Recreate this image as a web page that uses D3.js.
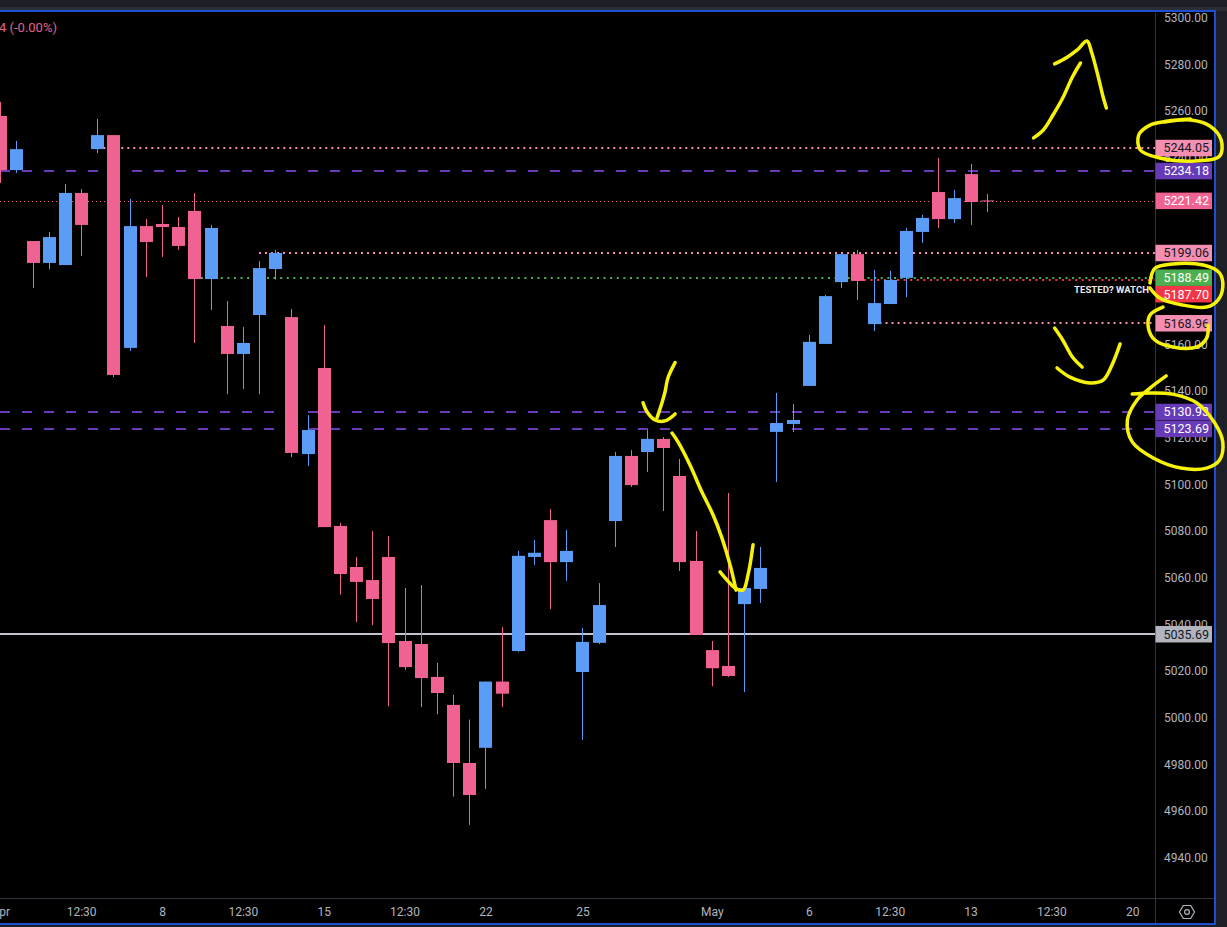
<!DOCTYPE html>
<html>
<head>
<meta charset="utf-8">
<script src="https://cdn.jsdelivr.net/npm/d3@7/dist/d3.min.js"></script>
<style>
  html, body { margin: 0; padding: 0; background: #1c1f26; }
  svg { display: block; }
  text { font-family: Roboto, "Liberation Sans", Arial, sans-serif; }
</style>
</head>
<body>
<svg id="chart" width="1227" height="927"></svg>
<script>
// ---------------- DATA ----------------
const opens  = [5257.8,5234.6,5204.2,5194.8,5193.9,5224.8,5243.6,5249.6,5158.4,5210.6,
                5211.5,5210.2,5217.1,5187.9,5167.8,5155.8,5172.5,5192.2,5171.6,5112.9,
                5149.8,5082.1,5064.5,5058.9,5068.8,5032.8,5031.5,5017.4,5005.4,4980.5,
                4987.0,5015.4,5028.5,5068.8,5084.6,5066.6,5019.5,5032.0,5084.2,5112.1,
                5113.8,5119.4,5103.5,5067.1,5028.9,5022.1,5048.6,5055.1,5122.4,5125.8,
                5142.1,5160.1,5186.6,5198.6,5168.6,5177.2,5188.4,5208.1,5225.2,5213.6,
                5232.9,5221.6];
const highs  = [5263.8,5247.1,5204.2,5208.1,5228.6,5226.5,5256.5,5249.6,5222.2,5213.6,
                5219.6,5214.5,5224.8,5211.1,5178.5,5167.4,5195.6,5200.4,5175.1,5129.6,
                5168.2,5083.4,5068.8,5079.9,5077.8,5055.5,5056.8,5023.4,5009.7,4999.1,
                5015.4,5038.7,5071.4,5076.1,5089.4,5080.4,5038.4,5057.6,5113.8,5114.6,
                5123.2,5120.2,5110.8,5079.9,5032.8,5096.2,5056.8,5073.1,5139.1,5134.4,
                5164.0,5181.1,5198.6,5200.4,5191.8,5191.4,5209.8,5215.4,5239.8,5226.1,
                5237.2,5224.4];
const lows   = [5229.1,5233.4,5184.1,5192.2,5193.9,5197.8,5241.9,5145.9,5157.1,5188.8,
                5197.4,5200.4,5160.5,5174.6,5138.6,5140.8,5138.6,5187.7,5111.6,5107.8,
                5081.6,5052.7,5040.9,5039.6,5004.8,5020.4,5004.4,5001.4,4966.1,4954.0,
                4969.4,5004.4,5028.1,5065.4,5046.4,5058.6,4990.4,5031.5,5073.1,5098.8,
                5105.2,5088.5,5062.8,5035.4,5013.4,5017.4,5010.9,5049.1,5100.9,5122.4,
                5142.1,5160.1,5184.1,5178.9,5165.6,5177.2,5180.2,5203.4,5209.8,5211.9,
                5211.1,5216.6];
const closes = [5234.6,5243.6,5194.8,5205.9,5224.8,5211.1,5249.6,5146.8,5210.6,5203.8,
                5210.2,5202.1,5187.9,5209.8,5155.8,5160.5,5192.6,5199.1,5113.4,5123.2,
                5081.6,5061.5,5058.1,5050.8,5031.9,5021.6,5016.9,5010.5,4980.5,4966.8,
                5015.4,5010.2,5069.3,5070.6,5066.6,5071.4,5032.4,5048.2,5112.1,5099.6,
                5119.4,5115.5,5066.6,5035.4,5021.1,5017.8,5055.5,5064.1,5126.2,5127.5,
                5161.0,5180.6,5198.6,5187.1,5177.6,5187.5,5208.5,5214.1,5213.6,5222.6,
                5220.9,5221.42];

// x-axis labels (bar index -> label)
const xTickIndex  = [0, 5, 10, 15, 20, 25, 30, 36, 44, 50, 55, 60, 65, 70];
const xTickLabels = ["Apr","12:30","8","12:30","15","12:30","22","25","May","6","12:30","13","12:30","20"];

// price axis ticks
const yTickValues = [4940,4960,4980,5000,5020,5040,5060,5080,5100,5120,5140,5160,5180,5200,5220,5240,5260,5280,5300];

// horizontal levels
const levelPrices     = [5244.05, 5234.18, 5221.42, 5199.06, 5188.49, 5187.70, 5168.96, 5130.93, 5123.69, 5035.69];
const levelStartIndex = [6, 0, 0, 16, 12, 53, 54, 0, 0, 0];
const levelNote = "TESTED? WATCH";
const headerText = "4 (-0.00%)";

// hand-drawn annotation strokes, in [bar index, price]
const annoUpShaft   = [[63.9,5248.4],[64.5,5251.8],[65.1,5258.2],[65.7,5265.5],[66.3,5274.5],[66.8,5280.5]];
const annoUpHead    = [[65.2,5280.1],[66.0,5283.1],[66.6,5286.1],[67.2,5289.9],[67.5,5284.8],[67.9,5274.5],[68.2,5265.9],[68.4,5261.2]];
const annoRing1     = [[72.0,5255.2],[73.6,5256.1],[74.8,5253.5],[75.5,5247.5],[75.4,5240.6],[73.9,5238.5],[71.7,5239.8],[70.5,5243.2],[70.4,5249.6],[71.1,5253.9],[72.2,5255.6],[73.6,5256.5]];
const annoRing2     = [[71.1,5186.2],[71.4,5192.5],[72.5,5194.4],[74.4,5193.9],[75.4,5190.5],[75.6,5184.5],[75.3,5178.9],[74.6,5175.9],[73.1,5176.8],[71.7,5179.8],[71.1,5184.1]];
const annoRing3     = [[71.9,5175.9],[71.1,5172.5],[71.0,5166.9],[71.4,5161.8],[72.5,5158.8],[74.0,5158.8],[74.6,5162.6],[74.7,5168.2]];
const annoDownA     = [[65.2,5166.9],[65.7,5161.8],[66.3,5154.5],[66.9,5150.2]];
const annoDownB     = [[65.35,5149.8],[66.15,5145.9],[67.4,5143.4],[68.2,5144.6],[68.75,5151.1],[69.25,5160.1]];
const annoRing4     = [[72.1,5146.4],[71.1,5141.2],[70.3,5136.1],[69.7,5127.5],[70.0,5118.1],[71.3,5111.2],[73.0,5106.9],[74.6,5106.9],[75.4,5110.4],[75.6,5118.1],[75.1,5126.2],[74.0,5134.8],[72.5,5138.6],[71.1,5139.1],[70.0,5138.6]];
const annoMidShaft  = [[41.73,5152.1],[41.29,5145.6],[41.11,5139.6],[40.92,5134.9],[40.61,5128.4]];
const annoMidHead   = [[39.75,5134.9],[39.99,5131.0],[40.49,5127.5],[41.11,5127.1],[41.73,5130.1]];
const annoLongShaft = [[41.54,5121.9],[41.91,5118.1],[42.65,5108.2],[43.39,5096.6],[44.08,5086.8],[44.63,5076.9],[45.13,5065.4],[45.5,5054.6]];
const annoLongHead  = [[44.51,5062.4],[44.94,5058.9],[45.44,5055.5],[45.93,5054.6],[46.24,5061.1],[46.55,5074.0]];

// ---------------- LAYOUT ----------------
const W = 1227, H = 927;
const plot = { left: 0, right: 1155, top: 13, bottom: 898 };
const colUp = "#5b9cf6", colDown = "#f06292";

const x = d3.scaleLinear().domain([0, 61]).range([0.3, 986.7]);
const y = d3.scaleLinear().domain([4940, 5300]).range([857.5, 17.5]);

const svg = d3.select("#chart");

// window chrome
svg.append("rect").attr("x",0).attr("y",0).attr("width",W).attr("height",H).attr("fill","#1c1f26");
svg.append("rect").attr("x",0).attr("y",7).attr("width",W).attr("height",4).attr("fill","#2a2d35");
svg.append("rect").attr("x",0).attr("y",12).attr("width",1216).attr("height",912).attr("fill","#000");
svg.append("rect").attr("x",-2).attr("y",11).attr("width",1217).attr("height",913)
   .attr("fill","none").attr("stroke","#1f4fd1").attr("stroke-width",2);

const defs = svg.append("defs");
defs.append("clipPath").attr("id","plotClip").append("rect")
  .attr("x",plot.left).attr("y",plot.top).attr("width",plot.right-plot.left).attr("height",plot.bottom-plot.top);

// separators
svg.append("line").attr("x1",1155.5).attr("x2",1155.5).attr("y1",13).attr("y2",923)
   .attr("stroke","#2e323c").attr("stroke-width",1);
svg.append("line").attr("x1",0).attr("x2",1214).attr("y1",898.5).attr("y2",898.5)
   .attr("stroke","#2e323c").attr("stroke-width",1);

const plotG = svg.append("g").attr("clip-path","url(#plotClip)");

// level lines
const levelStyle = [
  {c:"#f48fb1", w:2, d:"2,4"},
  {c:"#673ab7", w:2, d:"10,12"},
  {c:"#f06292", w:1, d:"1,3"},
  {c:"#f48fb1", w:2, d:"2,4"},
  {c:"#4caf50", w:2, d:"2,4.6"},
  {c:"#f23645", w:2, d:"2,4.6"},
  {c:"#f48fb1", w:2, d:"2,4"},
  {c:"#673ab7", w:2, d:"10,12"},
  {c:"#673ab7", w:2, d:"10,12"},
  {c:"#c3c5cc", w:2, d:null}
];
levelPrices.forEach((p, i) => {
  const st = levelStyle[i];
  const yy = Math.round(y(p)) + (st.w === 1 ? 0.5 : 0);
  const ln = plotG.append("line")
    .attr("x1", levelStartIndex[i] === 0 ? plot.left : x(levelStartIndex[i]))
    .attr("x2", plot.right).attr("y1", yy).attr("y2", yy)
    .attr("stroke", st.c).attr("stroke-width", st.w);
  if (st.d) ln.attr("stroke-dasharray", st.d);
});

// candles
const bars = d3.range(opens.length).map(i => ({i, o: opens[i], h: highs[i], l: lows[i], c: closes[i]}));
const candleG = plotG.append("g");
candleG.selectAll("line.wick").data(bars).join("line")
  .attr("class","wick")
  .attr("x1", d => Math.round(x(d.i)) + 0.5).attr("x2", d => Math.round(x(d.i)) + 0.5)
  .attr("y1", d => y(d.h)).attr("y2", d => y(d.l))
  .attr("stroke", d => d.c >= d.o ? colUp : colDown).attr("stroke-width", 1);
candleG.selectAll("rect.body").data(bars).join("rect")
  .attr("class","body")
  .attr("x", d => Math.round(x(d.i)) - 6)
  .attr("width", 13)
  .attr("y", d => y(Math.max(d.o, d.c)))
  .attr("height", d => Math.max(1, Math.abs(y(d.o) - y(d.c))))
  .attr("fill", d => d.c >= d.o ? colUp : colDown);

// note text on red level
plotG.append("text")
  .attr("x", plot.right - 6).attr("y", y(levelPrices[5]) + 13)
  .attr("text-anchor","end").attr("font-size", 9.6).attr("font-weight", 700)
  .attr("fill","#e8e8e8").text(levelNote);

// header text
svg.append("text").attr("x", -1).attr("y", 32).attr("font-size", 13)
  .attr("fill", "#e0628c").text(headerText);

// price labels positions (resolve collisions)
const lh = 16.5;
const labels = levelPrices.map((p, i) => ({p, i, yc: y(p)})).sort((a, b) => a.yc - b.yc);
for (let k = 1; k < labels.length; k++) {
  if (labels[k].yc < labels[k-1].yc + lh - 1) labels[k].yc = labels[k-1].yc + lh;
}

// y axis (ticks fully hidden behind a price label are skipped)
const visibleTicks = yTickValues.filter(v => !labels.some(L => Math.abs(L.yc - y(v)) < lh/2 - 1));
const yAxis = d3.axisRight(y).tickValues(visibleTicks).tickFormat(d3.format(".2f"))
  .tickSize(0).tickPadding(9);
const yG = svg.append("g").attr("transform", `translate(${plot.right},0)`).call(yAxis);
yG.select(".domain").remove();
yG.selectAll("text").attr("fill","#b2b5be").attr("font-size",12)
  .attr("font-family","Roboto, 'Liberation Sans', Arial, sans-serif");

// x axis
const xAxis = d3.axisBottom(x).tickValues(xTickIndex).tickFormat((d, i) => xTickLabels[i])
  .tickSize(0).tickPadding(9);
const xG = svg.append("g").attr("transform", `translate(0,${plot.bottom})`).call(xAxis);
xG.select(".domain").remove();
xG.selectAll("text").attr("fill","#b2b5be").attr("font-size",12)
  .attr("font-family","Roboto, 'Liberation Sans', Arial, sans-serif");

// price labels
const labelStyle = [
  {bg:"#f48fb1", fg:"#131722"},
  {bg:"#673ab7", fg:"#ffffff"},
  {bg:"#f06292", fg:"#ffffff"},
  {bg:"#f48fb1", fg:"#131722"},
  {bg:"#4caf50", fg:"#ffffff"},
  {bg:"#f23645", fg:"#ffffff"},
  {bg:"#f48fb1", fg:"#131722"},
  {bg:"#673ab7", fg:"#ffffff"},
  {bg:"#673ab7", fg:"#ffffff"},
  {bg:"#b2b5be", fg:"#131722"}
];
const lblG = svg.append("g");
labels.forEach(L => {
  const st = labelStyle[L.i];
  lblG.append("rect").attr("x", 1155.5).attr("y", L.yc - lh/2).attr("width", 56.5).attr("height", lh)
    .attr("fill", st.bg);
  lblG.append("text").attr("x", 1163.5).attr("y", L.yc).attr("dy","0.35em")
    .attr("font-size", 12.5).attr("fill", st.fg).text(d3.format(".2f")(L.p));
});

// settings icon
const hex = d3.range(6).map(k => {
  const a = Math.PI / 3 * k;
  return [1187 + 7.5 * Math.cos(a), 912 + 7.5 * Math.sin(a)];
});
svg.append("path").attr("d", d3.line()(hex) + "Z").attr("fill","none")
  .attr("stroke","#b2b5be").attr("stroke-width",1.2);
svg.append("circle").attr("cx",1187).attr("cy",912).attr("r",2.4).attr("fill","none")
  .attr("stroke","#b2b5be").attr("stroke-width",1.2);

// annotations
const strokes = [annoUpShaft, annoUpHead, annoRing1, annoRing2, annoRing3, annoDownA, annoDownB,
                 annoRing4, annoMidShaft, annoMidHead, annoLongShaft, annoLongHead];
const pen = d3.line().x(d => x(d[0])).y(d => y(d[1])).curve(d3.curveCatmullRom.alpha(0.5));
svg.append("g").selectAll("path").data(strokes).join("path")
  .attr("d", pen).attr("fill","none").attr("stroke","#f7f20a")
  .attr("stroke-width",3.5).attr("stroke-linecap","round").attr("stroke-linejoin","round");
</script>
</body>
</html>
